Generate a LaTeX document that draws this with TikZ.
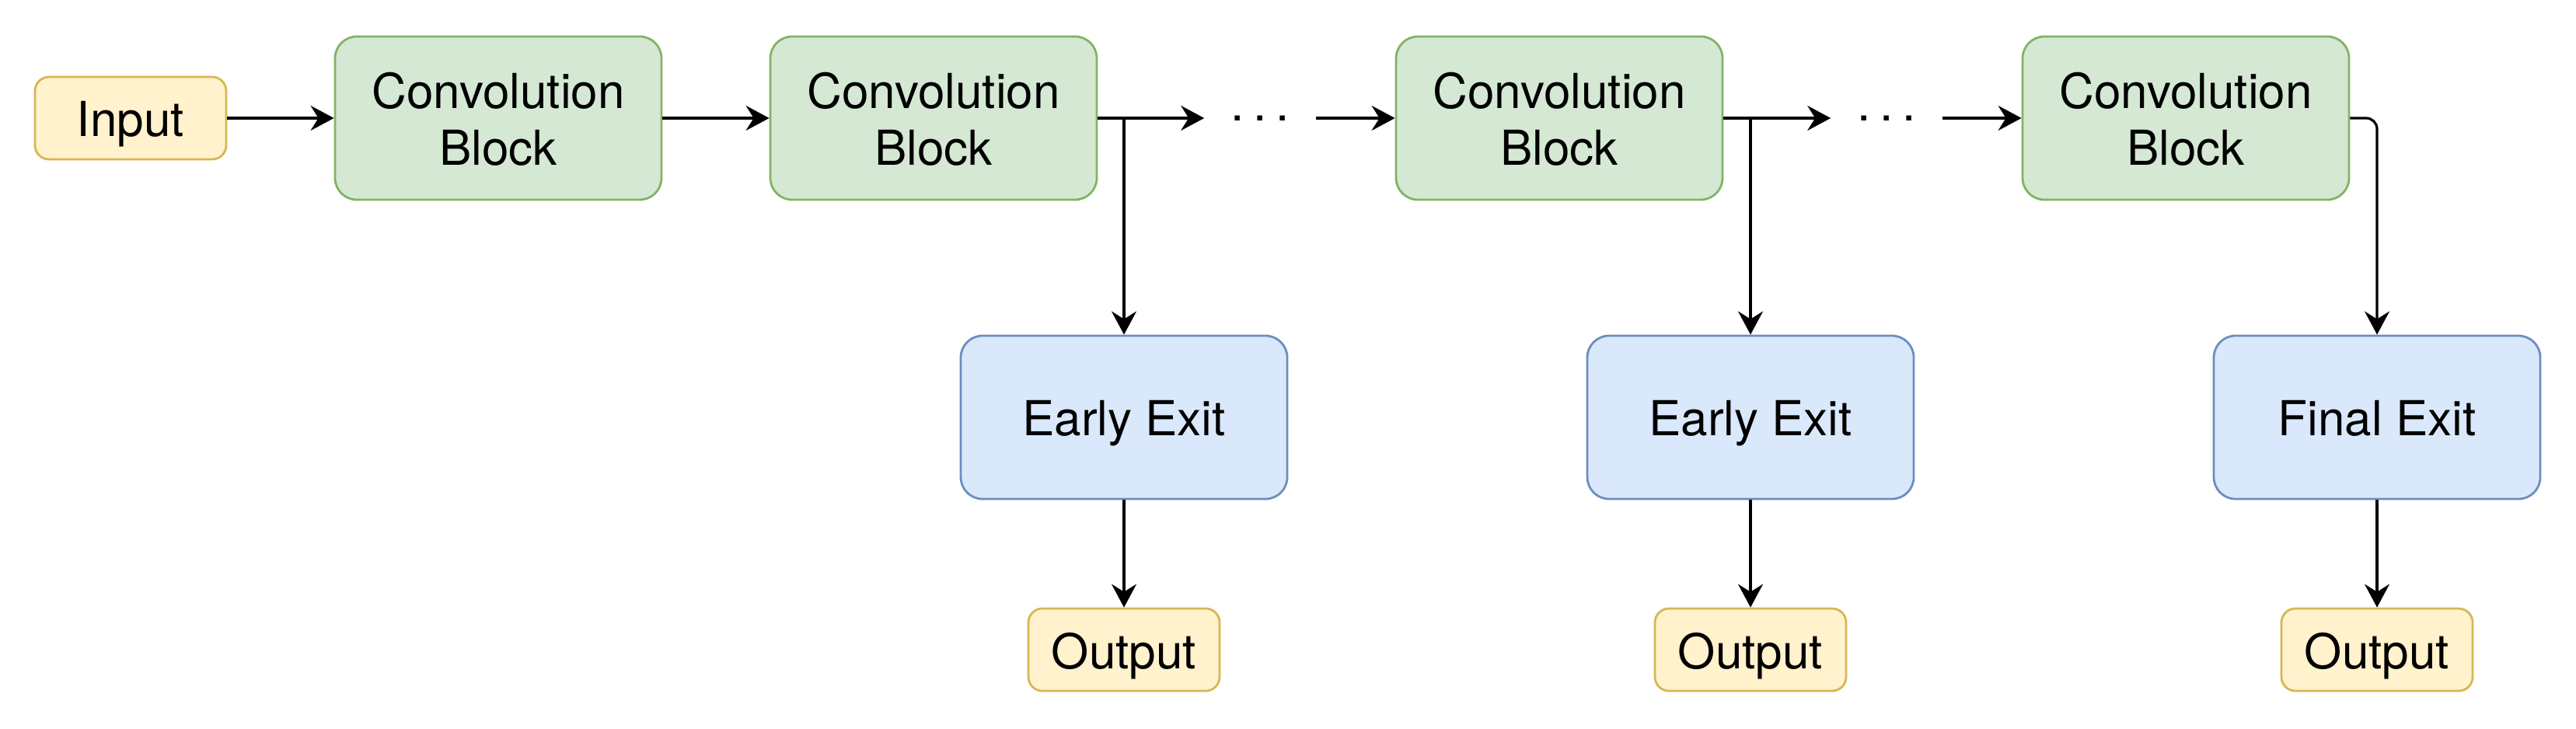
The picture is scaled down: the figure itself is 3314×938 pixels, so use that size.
\documentclass[tikz,border=0pt]{standalone}
\usepackage{fontspec}
\setmainfont{TeX Gyre Heros}
\usetikzlibrary{arrows.meta}
\definecolor{gfill}{HTML}{D5E8D4}
\definecolor{gline}{HTML}{82B366}
\definecolor{bfill}{HTML}{DAE8FC}
\definecolor{bline}{HTML}{6C8EBF}
\definecolor{yfill}{HTML}{FFF2CC}
\definecolor{yline}{HTML}{D6B656}
\tikzset{
  boxbase/.style={inner sep=0pt, line width=0.7pt, align=center,
    font=\fontsize{15.5}{18.3}\selectfont},
  oneline/.style={text height=12pt, text depth=0pt},
  convbox/.style={boxbase, draw=gline, fill=gfill, minimum width=105pt, minimum height=52.5pt, rounded corners=7pt, text height=30.3pt, text depth=0pt},
  exitbox/.style={boxbase, oneline, draw=bline, fill=bfill, minimum width=105pt, minimum height=52.5pt, rounded corners=7pt},
  iobox/.style={boxbase, oneline, draw=yline, fill=yfill, minimum width=61.5pt, minimum height=26.5pt, rounded corners=4.5pt},
  dotsnode/.style={inner sep=0pt, minimum width=35.5pt, font=\fontsize{15.5}{18.3}\selectfont},
  arr/.style={line width=0.8pt, -{Stealth[length=7.5pt,width=8pt,inset=2.5pt]}}
}
\begin{document}
\begin{tikzpicture}[x=0.25pt,y=-0.25pt]
\useasboundingbox (0,0) rectangle (3314,938);
\node[iobox] (in) at (168,152) {Input};
\node[convbox] (c1) at (641,152) {Convolution\\Block};
\node[convbox] (c2) at (1201,152) {Convolution\\Block};
\node[dotsnode] (d1) at (1621,152) {.\kern3pt.\kern3pt.};
\node[convbox] (c3) at (2006,152) {Convolution\\Block};
\node[dotsnode] (d2) at (2427,152) {.\kern3pt.\kern3pt.};
\node[convbox] (c4) at (2812,152) {Convolution\\Block};
\node[exitbox] (e1) at (1446,537) {Early Exit};
\node[exitbox] (e2) at (2252,537) {Early Exit};
\node[exitbox] (f) at (3058,537) {Final Exit};
\node[iobox] (o1) at (1446,836) {Output};
\node[iobox] (o2) at (2252,836) {Output};
\node[iobox] (o3) at (3058,836) {Output};
\draw[arr] (in) -- (c1);
\draw[arr] (c1) -- (c2);
\draw[arr] (c2.east) -- (d1.west);
\draw[arr] (c2.east) -| (e1.north);
\draw[arr] (d1.east) -- (c3.west);
\draw[arr] (c3.east) -- (d2.west);
\draw[arr] (c3.east) -| (e2.north);
\draw[arr] (d2.east) -- (c4.west);
\draw[arr, rounded corners=3.5pt] (c4.east) -| (f.north);
\draw[arr] (e1) -- (o1);
\draw[arr] (e2) -- (o2);
\draw[arr] (f) -- (o3);
\end{tikzpicture}
\end{document}
